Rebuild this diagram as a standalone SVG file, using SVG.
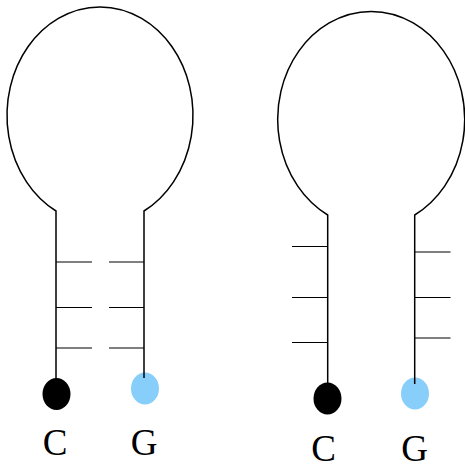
<svg xmlns="http://www.w3.org/2000/svg" width="465" height="465" viewBox="0 0 465 465">
<style>
.strand{fill:none;stroke:#000;stroke-width:1.5}
.tick{fill:none;stroke:#000;stroke-width:1.2}
.c{fill:#000}
.g{fill:#87CEFA}
.lbl{font-family:"Liberation Serif","Times New Roman",serif;font-size:37px;fill:#000;text-anchor:middle}
</style>
<rect width="465" height="465" fill="#fff"/>
<g id="hairpin-paired">
  <ellipse class="c" cx="56.5" cy="394" rx="14" ry="16"/>
  <ellipse class="g" cx="145" cy="388.5" rx="14" ry="16"/>
  <path class="strand" d="M56 381 V211 A93 108.5 0 1 1 144 211 V378"/>
  <g id="pairs-left">
    <line class="tick" x1="56" y1="262" x2="92" y2="262"/>
    <line class="tick" x1="56" y1="307.5" x2="92" y2="307.5"/>
    <line class="tick" x1="56" y1="348" x2="92" y2="348"/>
    <line class="tick" x1="109" y1="262" x2="144" y2="262"/>
    <line class="tick" x1="109" y1="307.5" x2="144" y2="307.5"/>
    <line class="tick" x1="109" y1="348" x2="144" y2="348"/>
  </g>
  <text class="lbl" x="55" y="455">C</text>
  <text class="lbl" x="144" y="455">G</text>
</g>
<g id="hairpin-open">
  <ellipse class="c" cx="327.5" cy="398.5" rx="14" ry="16"/>
  <ellipse class="g" cx="415" cy="393.5" rx="14" ry="16"/>
  <path class="strand" d="M327.7 385 V215 A93.5 108 0 1 1 414.7 215 V384"/>
  <g id="ticks-right">
    <line class="tick" x1="292" y1="246.5" x2="327.7" y2="246.5"/>
    <line class="tick" x1="292" y1="297.5" x2="327.7" y2="297.5"/>
    <line class="tick" x1="292" y1="342.5" x2="327.7" y2="342.5"/>
    <line class="tick" x1="414.7" y1="252" x2="450.5" y2="252"/>
    <line class="tick" x1="414.7" y1="297.5" x2="450.5" y2="297.5"/>
    <line class="tick" x1="414.7" y1="338" x2="450.5" y2="338"/>
  </g>
  <text class="lbl" x="323.5" y="461">C</text>
  <text class="lbl" x="414.5" y="461">G</text>
</g>
</svg>
